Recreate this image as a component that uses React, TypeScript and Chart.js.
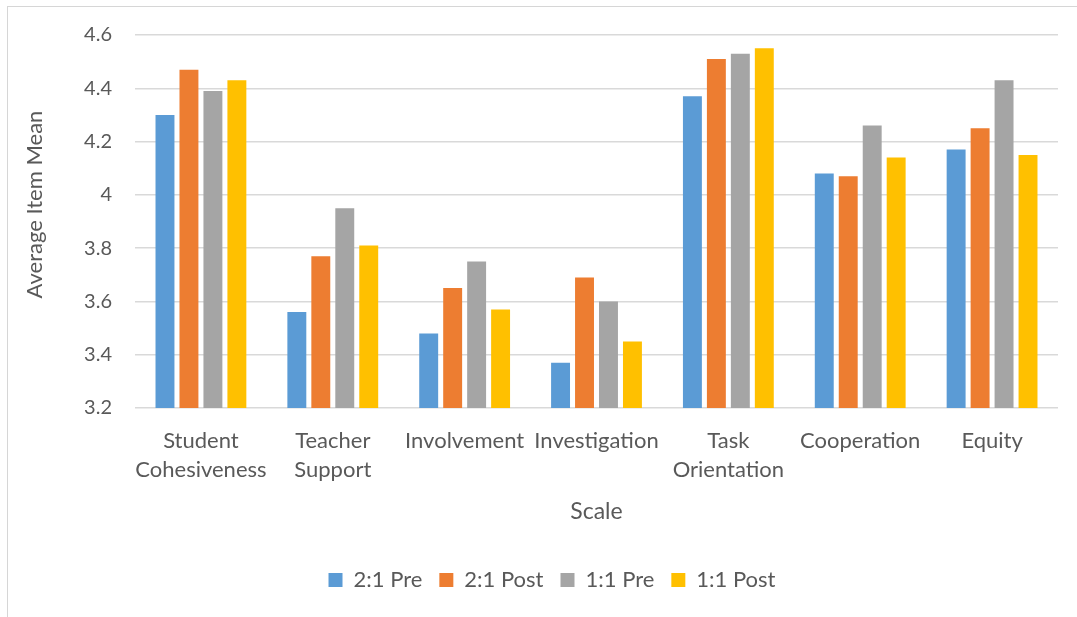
import React, { useEffect, useRef } from "react";
import { Chart, registerables } from "chart.js";

Chart.register(...registerables);

const categories: (string | string[])[] = [
  ["Student", "Cohesiveness"],
  ["Teacher", "Support"],
  "Involvement",
  "Investigation",
  ["Task", "Orientation"],
  "Cooperation",
  "Equity",
];

const seriesNames = ["2:1 Pre", "2:1 Post", "1:1 Pre", "1:1 Post"];
const pre21 = [4.3, 3.56, 3.48, 3.37, 4.37, 4.08, 4.17];
const post21 = [4.47, 3.77, 3.65, 3.69, 4.51, 4.07, 4.25];
const pre11 = [4.39, 3.95, 3.75, 3.6, 4.53, 4.26, 4.43];
const post11 = [4.43, 3.81, 3.57, 3.45, 4.55, 4.14, 4.15];
const colors = ["#5B9BD5", "#ED7D31", "#A5A5A5", "#FFC000"];

const yMin = 3.2;
const yMax = 4.6;
const yStep = 0.2;
const yTitle = "      Average Item Mean";
const xTitle = "Scale";

const FONT = "Lato, 'Noto Sans', sans-serif";
const TEXT = "#595959";

export default function App() {
  const ref = useRef<HTMLCanvasElement | null>(null);

  useEffect(() => {
    if (!ref.current) return;
    const values = [pre21, post21, pre11, post11];
    const chart = new Chart(ref.current, {
      type: "bar",
      data: {
        labels: categories,
        datasets: values.map((v, i) => ({
          label: seriesNames[i],
          data: v,
          backgroundColor: colors[i],
          borderWidth: 0,
          categoryPercentage: 0.727,
          barPercentage: 0.79,
        })),
      },
      options: {
        animation: false,
        responsive: false,
        maintainAspectRatio: false,
        layout: { padding: { left: 46, right: 19, top: 35, bottom: 16 } },
        plugins: {
          tooltip: { enabled: false },
          legend: {
            position: "bottom",
            labels: {
              boxWidth: 14,
              boxHeight: 14,
              padding: 17,
              color: TEXT,
              font: { family: FONT, size: 22 },
            },
          },
        },
        scales: {
          x: {
            grid: { display: false },
            border: { display: false },
            ticks: {
              color: TEXT,
              font: { family: FONT, size: 22, lineHeight: 1.32 },
              maxRotation: 0,
              minRotation: 0,
              autoSkip: false,
              padding: 10,
            },
            title: {
              display: true,
              text: xTitle,
              color: TEXT,
              font: { family: FONT, size: 23 },
              padding: { top: 0, bottom: 27 },
            },
            afterFit: (scale: any) => {
              scale.height = 144;
            },
          },
          y: {
            min: yMin,
            max: yMax,
            grid: { color: "#d9d9d9", lineWidth: 1.5, drawTicks: false },
            border: { display: false },
            ticks: {
              stepSize: yStep,
              color: TEXT,
              font: { family: FONT, size: 20 },
              padding: 23,
              callback: (v: any) => String(Number(Number(v).toFixed(1))),
            },
            title: {
              display: true,
              text: yTitle,
              color: TEXT,
              font: { family: FONT, size: 22 },
              padding: { top: -24, bottom: 0 },
            },
            afterFit: (scale: any) => {
              scale.width = 89;
            },
          },
        },
      },
    });
    return () => chart.destroy();
  }, []);

  return (
    <div style={{ position: "fixed", left: 0, top: 0, width: 1077, height: 617, background: "#fff", overflow: "hidden" }}>
      <div
        style={{
          position: "absolute",
          left: 7,
          top: 6,
          width: 1200,
          height: 700,
          borderLeft: "1.5px solid #d6d6d6",
          borderTop: "1.5px solid #d6d6d6",
        }}
      />
      <canvas ref={ref} width={1077} height={617} style={{ position: "absolute", left: 0, top: 0, width: 1077, height: 617 }} />
    </div>
  );
}
